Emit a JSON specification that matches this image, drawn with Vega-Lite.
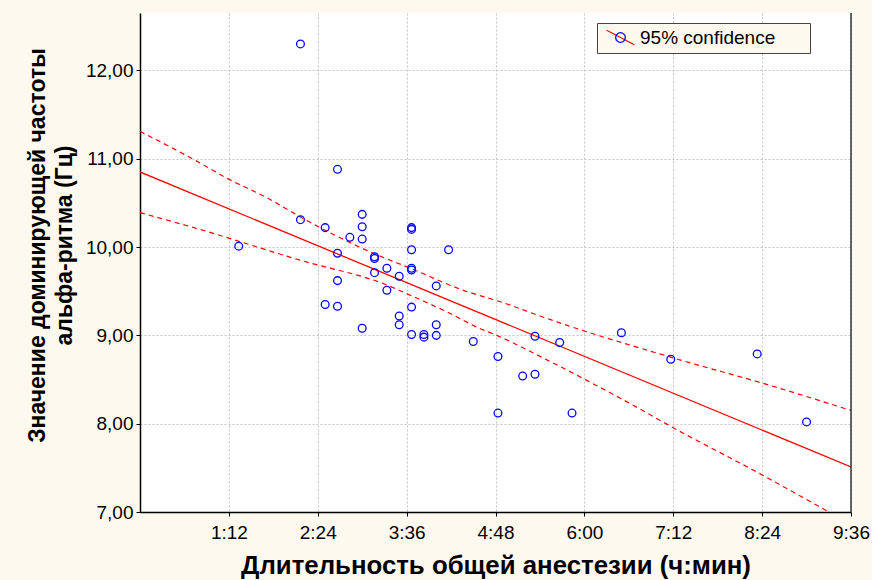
{
  "$schema": "https://vega.github.io/schema/vega-lite/v6.json",
  "width": 711,
  "height": 499,
  "autosize": {"type": "none"},
  "padding": {"left": 140, "top": 13, "right": 21, "bottom": 68},
  "background": "#fdf9ef",
  "view": {"fill": "#ffffff", "stroke": null},
  "config": {
    "font": "Liberation Sans",
    "axis": {
      "labelFont": "Liberation Sans",
      "labelFontSize": 19,
      "labelColor": "#000000",
      "domainColor": "#000000",
      "domainWidth": 1.5,
      "tickColor": "#000000",
      "tickSize": 4,
      "gridColor": "#c4c4c4",
      "gridDash": [2, 2],
      "gridWidth": 1,
      "titleFont": "Liberation Sans",
      "titleFontWeight": "bold",
      "titleColor": "#000000",
      "labelOverlap": false,
      "labelFlush": false
    }
  },
  "datasets": {
    "points": [
      {"t": 80, "v": 10.01}, {"t": 130, "v": 12.30}, {"t": 130, "v": 10.31},
      {"t": 150, "v": 10.22}, {"t": 150, "v": 9.35}, {"t": 160, "v": 10.88},
      {"t": 160, "v": 9.93}, {"t": 160, "v": 9.62}, {"t": 160, "v": 9.33},
      {"t": 170, "v": 10.11}, {"t": 180, "v": 10.37}, {"t": 180, "v": 10.23},
      {"t": 180, "v": 10.09}, {"t": 180, "v": 9.08}, {"t": 190, "v": 9.89},
      {"t": 190, "v": 9.87}, {"t": 190, "v": 9.71}, {"t": 200, "v": 9.76},
      {"t": 200, "v": 9.51}, {"t": 210, "v": 9.67}, {"t": 210, "v": 9.22},
      {"t": 210, "v": 9.12}, {"t": 220, "v": 10.22}, {"t": 220, "v": 10.20},
      {"t": 220, "v": 9.97}, {"t": 220, "v": 9.76}, {"t": 220, "v": 9.74},
      {"t": 220, "v": 9.32}, {"t": 220, "v": 9.01}, {"t": 230, "v": 9.01},
      {"t": 230, "v": 8.98}, {"t": 240, "v": 9.56}, {"t": 240, "v": 9.12},
      {"t": 240, "v": 9.00}, {"t": 250, "v": 9.97}, {"t": 270, "v": 8.93},
      {"t": 290, "v": 8.76}, {"t": 290, "v": 8.12}, {"t": 310, "v": 8.54},
      {"t": 320, "v": 8.56}, {"t": 320, "v": 8.99}, {"t": 340, "v": 8.92},
      {"t": 350, "v": 8.12}, {"t": 390, "v": 9.03}, {"t": 430, "v": 8.73},
      {"t": 500, "v": 8.79}, {"t": 540, "v": 8.02}
    ],
    "fit": [
      {"t": 0, "v": 10.85}, {"t": 576, "v": 7.51}
    ],
    "bands": [
      {"band": "upper", "t": 0, "v": 11.31}, {"band": "upper", "t": 45, "v": 10.98},
      {"band": "upper", "t": 71, "v": 10.775}, {"band": "upper", "t": 104, "v": 10.55},
      {"band": "upper", "t": 130, "v": 10.34}, {"band": "upper", "t": 189, "v": 9.93},
      {"band": "upper", "t": 219, "v": 9.76}, {"band": "upper", "t": 262, "v": 9.51},
      {"band": "upper", "t": 292, "v": 9.38}, {"band": "upper", "t": 330, "v": 9.19},
      {"band": "upper", "t": 362, "v": 9.04}, {"band": "upper", "t": 397, "v": 8.89},
      {"band": "upper", "t": 421, "v": 8.79}, {"band": "upper", "t": 438, "v": 8.72},
      {"band": "upper", "t": 504, "v": 8.46}, {"band": "upper", "t": 576, "v": 8.15},
      {"band": "lower", "t": 0, "v": 10.39}, {"band": "lower", "t": 46, "v": 10.21},
      {"band": "lower", "t": 130, "v": 9.85}, {"band": "lower", "t": 200, "v": 9.57},
      {"band": "lower", "t": 219, "v": 9.455}, {"band": "lower", "t": 248, "v": 9.27},
      {"band": "lower", "t": 275, "v": 9.08}, {"band": "lower", "t": 289, "v": 9.0},
      {"band": "lower", "t": 330, "v": 8.72}, {"band": "lower", "t": 362, "v": 8.49},
      {"band": "lower", "t": 416, "v": 8.08}, {"band": "lower", "t": 421, "v": 8.04},
      {"band": "lower", "t": 504, "v": 7.42}, {"band": "lower", "t": 560, "v": 6.985},
      {"band": "lower", "t": 576, "v": 6.86}
    ],
    "border": [{"t": 576}]
  },
  "layer": [
    {
      "data": {"name": "bands"},
      "mark": {"type": "line", "color": "#ff0000", "strokeWidth": 1.2, "strokeDash": [5, 4], "clip": true, "interpolate": "monotone"},
      "encoding": {
        "x": {
          "field": "t", "type": "quantitative",
          "scale": {"domain": [0, 576], "nice": false, "zero": false},
          "axis": {
            "values": [72, 144, 216, 288, 360, 432, 504, 576],
            "labelExpr": "floor(datum.value / 60) + ':' + format(datum.value % 60, '02d')",
            "labelPadding": 7,
            "title": "Длительность общей анестезии (ч:мин)",
            "titleFontSize": 25.8,
            "titleY": 61,
            "titleBaseline": "alphabetic"
          }
        },
        "y": {
          "field": "v", "type": "quantitative",
          "scale": {"domain": [7, 12.65], "nice": false, "zero": false},
          "axis": {
            "values": [7, 8, 9, 10, 11, 12],
            "labelExpr": "replace(format(datum.value, '.2f'), '.', ',')",
            "labelPadding": 3,
            "title": ["Значение доминирующей частоты", "альфа-ритма (Гц)"],
            "titleFontSize": 23,
            "titleAngle": 270,
            "titleX": -96,
            "titleY": 232,
            "titleAlign": "center",
            "titleBaseline": "alphabetic",
            "titleLineHeight": 27
          }
        },
        "detail": {"field": "band", "type": "nominal"}
      }
    },
    {
      "data": {"name": "fit"},
      "mark": {"type": "line", "strokeWidth": 1.3, "clip": true},
      "encoding": {
        "x": {"field": "t", "type": "quantitative"},
        "y": {"field": "v", "type": "quantitative"},
        "stroke": {
          "datum": "95% confidence", "type": "nominal",
          "scale": {"range": ["#ff0000"]},
          "legend": {
            "orient": "none", "legendX": 457, "legendY": 10,
            "title": " ", "titleOrient": "right", "titlePadding": 30, "titleFontSize": 1,
            "padding": 5, "fillColor": "#fdf9ef", "strokeColor": "#444444",
            "symbolType": "M-2.3,-1.2L2.3,1.2", "symbolSize": 144,
            "symbolStrokeWidth": 1.2, "symbolStrokeColor": "#ff0000",
            "symbolOffset": 9, "labelOffset": 10,
            "labelFontSize": 19, "labelColor": "#000000", "labelFont": "Liberation Sans"
          }
        }
      }
    },
    {
      "data": {"name": "border"},
      "mark": {"type": "rule", "color": "#333333", "strokeWidth": 1.5},
      "encoding": {
        "x": {"field": "t", "type": "quantitative"}
      }
    },
    {
      "data": {"name": "points"},
      "mark": {"type": "point", "filled": false, "size": 60, "strokeWidth": 1.3, "opacity": 1},
      "encoding": {
        "x": {"field": "t", "type": "quantitative"},
        "y": {"field": "v", "type": "quantitative"},
        "color": {
          "datum": "observed", "type": "nominal",
          "scale": {"range": ["#0000ff"]},
          "legend": {
            "orient": "none", "legendX": 457, "legendY": 10, "title": null,
            "padding": 5, "fillColor": null, "strokeColor": null,
            "symbolType": "M0.8,0A0.8,0.8,0,1,1,-0.8,0A0.8,0.8,0,1,1,0.8,0", "symbolSize": 144,
            "symbolStrokeWidth": 1.3, "symbolStrokeColor": "#0000ff", "symbolFillColor": "transparent",
            "symbolOffset": 9, "labelOffset": 5,
            "labelFontSize": 19, "labelExpr": "''", "labelFont": "Liberation Sans"
          }
        }
      }
    }
  ]
}
